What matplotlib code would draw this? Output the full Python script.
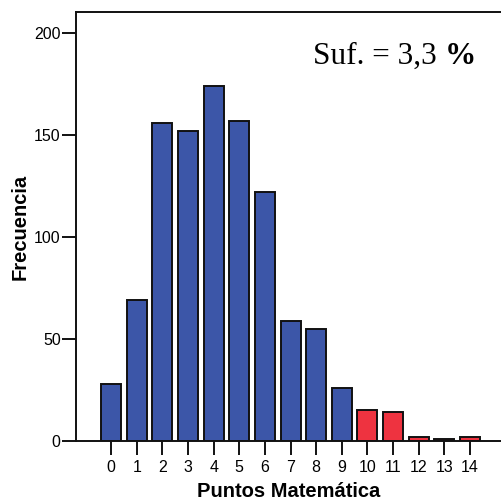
import matplotlib

matplotlib.use("Agg")
import matplotlib.pyplot as plt

# Distribution of math scores
puntos = list(range(15))
frecuencia = [28, 69, 156, 152, 174, 157, 122, 59, 55, 26, 15, 14, 2, 1, 2]
umbral = 10  # scores >= this are "suficiente"
y_ticks = [0, 50, 100, 150, 200]

azul = "#3c56a8"
rojo = "#ee3340"
colores = [rojo if p >= umbral else azul for p in puntos]

plt.rcParams["font.family"] = ["Liberation Sans", "DejaVu Sans"]

fig = plt.figure(figsize=(5.02, 5.01), dpi=100)
ax = fig.add_axes([0.1514, 0.1198, 0.8486, 0.8562])

ax.bar(puntos, frecuencia, width=0.78, color=colores, edgecolor="#111111", linewidth=1.4)

ax.set_xlim(-1.37, 15.25)
ax.set_ylim(0, 210.3)
ax.set_xticks(puntos)
ax.set_yticks(y_ticks)
ax.tick_params(axis="x", length=10, width=1.4, labelsize=11.5, pad=4, color="#111111")
ax.tick_params(axis="y", length=10, width=1.4, labelsize=11.5, pad=1, color="#111111")

for side in ("top", "left", "bottom"):
    ax.spines[side].set_linewidth(1.4)
    ax.spines[side].set_color("#111111")
ax.spines["right"].set_visible(False)

ax.set_xlabel("Puntos Matemática", fontsize=14.5, fontweight="bold", labelpad=4.5)
ax.set_ylabel("Frecuencia", fontsize=14.5, fontweight="bold", labelpad=3)

suf = sum(f for p, f in zip(puntos, frecuencia) if p >= umbral) / sum(frecuencia) * 100
txt = f"{suf:.1f}".replace(".", ",")
ax.text(0.556, 0.879, f"Suf. = {txt}", transform=ax.transAxes, fontsize=22.5,
        family="Liberation Serif", va="baseline", ha="left")
ax.text(0.865, 0.879, "%", transform=ax.transAxes, fontsize=22.5,
        family="Liberation Serif", fontweight="bold", va="baseline", ha="left")

fig.savefig("out.png", dpi=100)
